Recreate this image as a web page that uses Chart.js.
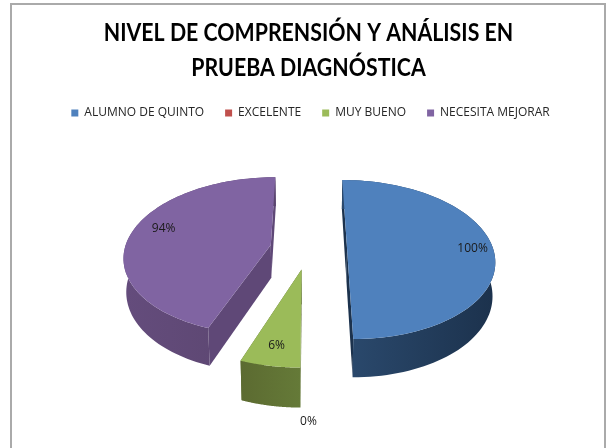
<!DOCTYPE html>
<html>
<head>
<meta charset="utf-8">
<script src="https://cdn.jsdelivr.net/npm/chart.js@4"></script>
<style>
  html, body { margin: 0; padding: 0; background: #fff; overflow: hidden; }
  #box { position: absolute; left: 10px; top: 3px; width: 596px; height: 445px; border: 2px solid #aaaaaa; border-bottom: 0; box-sizing: border-box; }
  #myChart { position: absolute; left: 0; top: 0; }
</style>
</head>
<body>
<div id="box"></div>
<canvas id="myChart" width="615" height="448"></canvas>
<script>
const categories = ['ALUMNO DE QUINTO', 'EXCELENTE', 'MUY BUENO', 'NECESITA MEJORAR'];
const values = [100, 0, 6, 94];
const titleLines = ['NIVEL DE COMPRENSIÓN Y ANÁLISIS EN', 'PRUEBA DIAGNÓSTICA'];

const topColors = ['#4f81bd', '#c0504d', '#9bbb59', '#8064a2'];
const wallLeft = ['#2b4a6e', '#7a3230', '#5c6b31', '#644c7c'];
const wallRight = ['#1c324d', '#7a3230', '#657a38', '#5a456e'];
const faceColors = ['#1c324d', '#7a3230', '#5c6b31', '#5f4877'];
const labelRadius = [0.86, 1.43, 0.81, 0.8];
const labelTurn = [0, 0, 0, 6];

// perspective of the tilted pie
const VX = 308.5, VY = 248.5, RX = 146, RY = 78, KP = 0.1386;
const EXPLODE = 0.264, DEPTH = 33, DEPTH_SHRINK = 0.985;
const TITLE_SQUEEZE = 0.853, TITLE_X = 308.5;

function project(u, v, low) {
  const s = 1 / (1 - KP * v);
  const shrink = low ? DEPTH_SHRINK : 1;
  return [VX + RX * u * s * shrink, VY + RY * v * s + (low ? DEPTH * s : 0)];
}

// front slices look wider in the 3d view, angle 0 is the top, clockwise
function warp(a) {
  return a + 0.436 * Math.sin(2 * a);
}

function spoke(a, r, off, low) {
  return project(off[0] + r * Math.sin(a), off[1] - r * Math.cos(a), low);
}

function poly(ctx, pts, fill) {
  ctx.beginPath();
  pts.forEach((p, i) => i ? ctx.lineTo(p[0], p[1]) : ctx.moveTo(p[0], p[1]));
  ctx.closePath();
  ctx.fillStyle = fill;
  ctx.fill();
}

function sliceAngles(arc) {
  const a0 = warp(arc.startAngle + Math.PI / 2);
  const a1 = warp(arc.endAngle + Math.PI / 2);
  const mid = (a0 + a1) / 2;
  return { a0, a1, mid, off: [EXPLODE * Math.sin(mid), -EXPLODE * Math.cos(mid)] };
}

const pie3d = {
  id: 'pie3d',
  // no condensed font here, so the title gets squeezed when it is drawn
  afterLayout(chart) {
    const block = chart.titleBlock;
    if (block.squeezed) return;
    block.squeezed = true;
    const draw = block.draw;
    block.draw = function () {
      const ctx = chart.ctx;
      const mid = (block.left + block.right) / 2;
      ctx.save();
      ctx.translate(TITLE_X, 0);
      ctx.scale(TITLE_SQUEEZE, 1);
      ctx.translate(-mid, 0);
      draw.call(block);
      ctx.restore();
    };
  },
  beforeDatasetDraw(chart, args) {
    const ctx = chart.ctx;
    const arcs = args.meta.data;
    // far side first so nearer slices cover it
    [3, 0, 2].forEach(i => {
      if (!values[i]) return;
      const { a0, a1, off } = sliceAngles(arcs[i]);
      const edge = (a, low) => spoke(a, 1, off, low);
      const mid = (low) => project(off[0], off[1], low);

      poly(ctx, [mid(false), edge(a0, false), edge(a0, true), mid(true)], faceColors[i]);
      poly(ctx, [mid(false), edge(a1, false), edge(a1, true), mid(true)], faceColors[i]);

      const n = 90;
      const top = [], bottom = [];
      for (let k = 0; k <= n; k++) {
        const a = a0 + (a1 - a0) * k / n;
        top.push(edge(a, false));
        bottom.push(edge(a, true));
      }
      const xs = bottom.map(p => p[0]);
      const grad = ctx.createLinearGradient(Math.min(...xs), 0, Math.max(...xs), 0);
      grad.addColorStop(0, wallLeft[i]);
      grad.addColorStop(1, wallRight[i]);
      poly(ctx, top.concat(bottom.slice().reverse()), grad);

      poly(ctx, [mid(false)].concat(top), topColors[i]);
    });

    // value labels
    ctx.fillStyle = '#1a1a1a';
    ctx.font = '12px "Open Sans"';
    ctx.textAlign = 'center';
    ctx.textBaseline = 'middle';
    values.forEach((val, i) => {
      const { mid, off } = sliceAngles(arcs[i]);
      const p = spoke(mid + labelTurn[i] * Math.PI / 180, labelRadius[i], off, false);
      ctx.fillText(val + '%', p[0], p[1]);
    });
    return false;
  }
};

new Chart(document.getElementById('myChart'), {
  type: 'pie',
  data: {
    labels: categories,
    datasets: [{ data: values, backgroundColor: topColors, borderWidth: 0 }]
  },
  plugins: [pie3d],
  options: {
    responsive: false,
    animation: false,
    layout: { padding: { top: 6, left: 6 } },
    plugins: {
      tooltip: { enabled: false },
      title: {
        display: true,
        text: titleLines,
        color: '#000',
        font: { family: 'Lato', size: 25, weight: 'bold', lineHeight: 1.4 },
        padding: { top: 9, bottom: 1 }
      },
      legend: {
        position: 'top',
        labels: {
          boxWidth: 7,
          boxHeight: 7,
          color: '#262626',
          font: { family: '"Open Sans"', size: 12 },
          padding: 21
        }
      }
    }
  }
});
</script>
</body>
</html>
